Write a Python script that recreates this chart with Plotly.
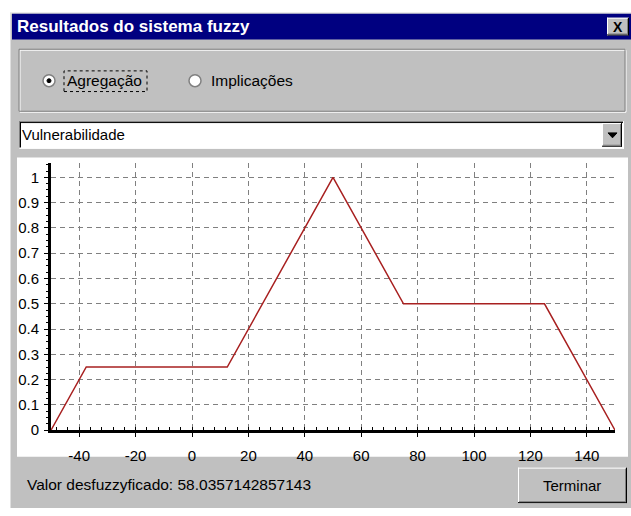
import plotly.graph_objects as go

# ---- data ----
x_vals = [-50, -37.5, 12.5, 50, 75, 125, 150]
mu_vals = [0, 0.25, 0.25, 1, 0.5, 0.5, 0]
x_range = [-50, 150]
y_range = [0, 1.055]
x_tick_vals = [-40, -20, 0, 20, 40, 60, 80, 100, 120, 140]
x_tick_labels = ["-40", "-20", "0", "20", "40", "60", "80", "100", "120", "140"]
window_title = "Resultados do sistema fuzzy"
radio_labels = ["Agregação", "Implicações"]
combo_text = "Vulnerabilidade"
result_text = "Valor desfuzzyficado: 58.0357142857143"
button_text = "Terminar"

W, H = 631, 516
FONT = "Arial, Liberation Sans, sans-serif"


def X(px):
    return px / W


def Y(py):
    return 1 - py / H


shapes = []


def rect(x0, y0, x1, y1, fill, line=None, lw=0, dash=None, layer="below"):
    d = dict(type="rect", xref="paper", yref="paper", x0=X(x0), x1=X(x1), y0=Y(y1), y1=Y(y0),
             fillcolor=fill, layer=layer, line=dict(width=lw, color=line or "rgba(0,0,0,0)"))
    if dash:
        d["line"]["dash"] = dash
    shapes.append(d)


def hline(x0, x1, y, color, lw=1, layer="below"):
    shapes.append(dict(type="line", xref="paper", yref="paper", x0=X(x0), x1=X(x1), y0=Y(y), y1=Y(y),
                       line=dict(color=color, width=lw), layer=layer))


def vline(x, y0, y1, color, lw=1, layer="below"):
    shapes.append(dict(type="line", xref="paper", yref="paper", x0=X(x), x1=X(x), y0=Y(y0), y1=Y(y1),
                       line=dict(color=color, width=lw), layer=layer))


def raised(x0, y0, x1, y1, layer="below"):
    rect(x0, y0, x1, y1, "#c0c0c0", layer=layer)
    hline(x0, x1, y0 + 0.5, "#ffffff", layer=layer)
    vline(x0 + 0.5, y0, y1, "#ffffff", layer=layer)
    hline(x0, x1, y1 - 0.5, "#000000", layer=layer)
    vline(x1 - 0.5, y0, y1, "#000000", layer=layer)
    hline(x0 + 1, x1 - 1, y1 - 1.5, "#808080", layer=layer)
    vline(x1 - 1.5, y0 + 1, y1 - 1, "#808080", layer=layer)


def sunken(x0, y0, x1, y1, fill, layer="below"):
    rect(x0, y0, x1, y1, fill, layer=layer)
    hline(x0, x1, y0 + 0.5, "#808080", layer=layer)
    vline(x0 + 0.5, y0, y1, "#808080", layer=layer)
    hline(x0 + 1, x1 - 1, y0 + 1.5, "#000000", layer=layer)
    vline(x0 + 1.5, y0 + 1, y1 - 1, "#000000", layer=layer)
    hline(x0, x1, y1 - 0.5, "#ffffff", layer=layer)
    vline(x1 - 0.5, y0, y1, "#ffffff", layer=layer)


# window
rect(10, 13, 631, 516, "#c0c0c0")
hline(10, 631, 13.5, "#dfdfdf")
vline(10.5, 13, 516, "#dfdfdf")
# title bar
rect(12, 14, 631, 40, "#000080")
# close button
raised(607, 18, 629, 36)
# group box (etched)
rect(20, 51, 626, 114, "rgba(0,0,0,0)", line="#ffffff", lw=1)
rect(19, 50, 625, 113, "rgba(0,0,0,0)", line="#808080", lw=1)
# radio buttons
for cx, sel in [(49, True), (195, False)]:
    shapes.append(dict(type="circle", xref="paper", yref="paper", x0=X(cx - 6), x1=X(cx + 6),
                       y0=Y(82 + 6), y1=Y(82 - 6), fillcolor="#ffffff",
                       line=dict(color="#808080", width=1.5), layer="below"))
    if sel:
        shapes.append(dict(type="circle", xref="paper", yref="paper", x0=X(cx - 2), x1=X(cx + 2),
                           y0=Y(82 + 2), y1=Y(82 - 2), fillcolor="#000000",
                           line=dict(color="#000000", width=1), layer="below"))
# focus rectangle
rect(64, 72, 147, 93, "rgba(0,0,0,0)", line="#000000", lw=1, dash="dot")
# combo box
sunken(19, 123, 624, 151, "#ffffff")
raised(602, 125, 622, 149)
shapes.append(dict(type="path", xref="paper", yref="paper",
                   path=f"M {X(608)} {Y(135)} L {X(617)} {Y(135)} L {X(612.5)} {Y(140)} Z",
                   fillcolor="#000000", line=dict(color="#000000", width=1), layer="below"))
# chart panel
rect(17, 160, 628, 464, "#ffffff")
# button
raised(518, 475, 627, 511)

annotations = [
    dict(text=f"<b>{window_title}</b>", x=X(15), y=Y(27), xanchor="left", yanchor="middle",
         font=dict(family=FONT, size=17, color="#ffffff")),
    dict(text="<b>X</b>", x=X(618), y=Y(27), xanchor="center", yanchor="middle",
         font=dict(family=FONT, size=14, color="#000000")),
    dict(text=radio_labels[0], x=X(65), y=Y(82), xanchor="left", yanchor="middle",
         font=dict(family=FONT, size=15.5, color="#000000")),
    dict(text=radio_labels[1], x=X(209), y=Y(82), xanchor="left", yanchor="middle",
         font=dict(family=FONT, size=15.5, color="#000000")),
    dict(text=combo_text, x=X(20), y=Y(137), xanchor="left", yanchor="middle",
         font=dict(family=FONT, size=15, color="#000000")),
    dict(text=result_text, x=X(25), y=Y(492), xanchor="left", yanchor="middle",
         font=dict(family=FONT, size=15.5, color="#000000")),
    dict(text=button_text, x=X(572), y=Y(493), xanchor="center", yanchor="middle",
         font=dict(family=FONT, size=15, color="#000000")),
]
for a in annotations:
    a.update(xref="paper", yref="paper", showarrow=False)

fig = go.Figure()
fig.add_trace(go.Scatter(x=x_vals, y=mu_vals, mode="lines",
                         line=dict(color="#a82020", width=1.5), hoverinfo="skip", showlegend=False))

axis_common = dict(
    showgrid=True, gridcolor="#808080", gridwidth=1, griddash="5px,4px",
    zeroline=False, showline=True, linecolor="#000000", linewidth=3,
    ticks="outside", ticklen=4, tickcolor="#000000", tickwidth=1,
    tickfont=dict(family=FONT, size=15, color="#000000"),
)

fig.update_layout(
    width=W, height=H,
    margin=dict(l=0, r=0, t=0, b=0, pad=0),
    paper_bgcolor="#ffffff",
    plot_bgcolor="rgba(0,0,0,0)",
    showlegend=False,
    shapes=shapes,
    annotations=annotations,
    xaxis=dict(domain=[X(51), X(615)], range=x_range, tickmode="array",
               tickvals=x_tick_vals, ticktext=x_tick_labels,
               minor=dict(dtick=4, tick0=0, ticks="inside", ticklen=3, tickcolor="#000000", showgrid=False),
               ticklabelstandoff=6, **axis_common),
    yaxis=dict(domain=[Y(437), Y(166)], range=y_range, dtick=0.1, tick0=0,
               minor=dict(dtick=0.025, ticks="outside", ticklen=2, tickcolor="#000000", showgrid=False),
               ticklabelstandoff=2, **axis_common),
)

post = (
    "var s=document.documentElement.style;s.margin='0';s.padding='0';s.overflow='hidden';"
    "var b=document.body.style;b.margin='0';b.padding='0';b.overflow='hidden';"
)
fig.write_html("out.html", config={"displayModeBar": False}, post_script=post)
